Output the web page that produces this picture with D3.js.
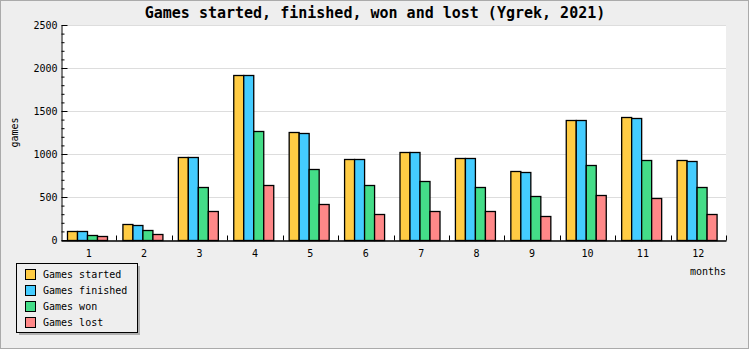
<!DOCTYPE html>
<html>
<head>
<meta charset="utf-8">
<script src="https://cdnjs.cloudflare.com/ajax/libs/d3/7.8.5/d3.min.js"></script>
<style>
  body { margin: 0; background: #fff; }
  text { font-family: "DejaVu Sans Mono", monospace; }
</style>
</head>
<body>
<div id="chart"></div>
<script>
const months = ["1", "2", "3", "4", "5", "6", "7", "8", "9", "10", "11", "12"];
const seriesNames = ["Games started", "Games finished", "Games won", "Games lost"];
const started  = [105, 186, 963, 1919, 1256, 938, 1020, 950, 802, 1392, 1430, 926];
const finished = [105, 170, 963, 1919, 1244, 938, 1020, 950, 791, 1392, 1415, 915];
const won      = [55, 116, 616, 1267, 826, 636, 686, 613, 508, 868, 926, 612];
const lost     = [43, 70, 337, 636, 419, 299, 337, 337, 276, 519, 484, 299];
const colors = ["#ffcc44", "#44ccff", "#44dd88", "#ff8888"];
const yTicks = [0, 500, 1000, 1500, 2000, 2500];

const W = 750, H = 350;
const margin = { top: 25, right: 24, bottom: 110, left: 61 };
const series = [started, finished, won, lost];

let svg = d3.select("#chart").append("svg")
  .attr("width", W)
  .attr("height", H);

// background and frame
svg.append("rect")
  .attr("x", 0.5).attr("y", 0.5)
  .attr("width", W - 2).attr("height", H - 2)
  .attr("fill", "#eeeeee")
  .attr("stroke", "#aaaaaa");

let x0 = d3.scaleBand().domain(months).range([margin.left, W - margin.right]).padding(0);
let bw = x0.bandwidth();
let x1 = d3.scaleBand().domain(d3.range(series.length)).range([bw * 0.11, bw * 0.83]).padding(0);
let y = d3.scaleLinear().domain([0, 2500]).range([H - margin.bottom, margin.top]);

// plot area
svg.append("rect")
  .attr("x", margin.left).attr("y", margin.top)
  .attr("width", W - margin.left - margin.right)
  .attr("height", H - margin.bottom - margin.top)
  .attr("fill", "#ffffff");

// grid lines
svg.append("g")
  .selectAll("line")
  .data(yTicks.filter(d => d > 0))
  .enter().append("line")
  .attr("x1", margin.left).attr("x2", W - margin.right)
  .attr("y1", d => Math.round(y(d)) + 0.5)
  .attr("y2", d => Math.round(y(d)) + 0.5)
  .attr("stroke", "#dddddd");

// bars
let groups = svg.append("g")
  .selectAll("g")
  .data(months)
  .enter().append("g")
  .attr("transform", d => `translate(${x0(d)},0)`);

groups.selectAll("rect")
  .data((m, i) => series.map((s, k) => ({ k: k, v: s[i] })))
  .enter().append("rect")
  .attr("x", d => Math.round(x1(d.k)) + 0.5)
  .attr("y", d => Math.round(y(d.v)) + 0.5)
  .attr("width", Math.round(x1.bandwidth()))
  .attr("height", d => Math.round(y(0)) - Math.round(y(d.v)))
  .attr("fill", d => colors[d.k])
  .attr("stroke", "#000")
  .attr("stroke-width", 1.3);

// y axis
let yAxis = d3.axisLeft(y)
  .tickValues(d3.range(0, 2501, 100))
  .tickSizeInner(0)
  .tickSizeOuter(0)
  .tickFormat("");
let yg = svg.append("g")
  .attr("transform", `translate(${margin.left + 0.5},0)`)
  .call(yAxis);
yg.select(".domain").attr("stroke", "#000");
yg.selectAll(".tick line")
  .attr("x2", d => d % 500 === 0 ? 6 : 3)
  .attr("stroke", "#000");
yg.selectAll(".tick")
  .filter(d => d % 500 === 0)
  .append("text")
  .attr("x", -4)
  .attr("dy", "0.35em")
  .attr("text-anchor", "end")
  .attr("fill", "#000")
  .style("font-size", "10px")
  .style("font-family", "DejaVu Sans Mono, monospace")
  .text(d => d);

// x axis
let xAxis = d3.axisBottom(x0).tickSize(0).tickSizeOuter(0);
let xg = svg.append("g")
  .attr("transform", `translate(0,${Math.round(y(0)) + 0.5})`)
  .call(xAxis);
xg.select(".domain").attr("stroke", "#000").attr("stroke-width", 1.5);
xg.selectAll(".tick text")
  .attr("y", 9)
  .attr("dy", "0.71em")
  .attr("fill", "#000")
  .style("font-size", "10px")
  .style("font-family", "DejaVu Sans Mono, monospace");
xg.append("g")
  .selectAll("line")
  .data(months.slice(1).concat(["end"]))
  .enter().append("line")
  .attr("x1", d => d === "end" ? Math.round(W - margin.right) + 0.5 : Math.round(x0(d)) + 0.5)
  .attr("x2", d => d === "end" ? Math.round(W - margin.right) + 0.5 : Math.round(x0(d)) + 0.5)
  .attr("y1", 0).attr("y2", -5)
  .attr("stroke", "#000");

// axis titles
svg.append("text")
  .attr("x", W - margin.right)
  .attr("y", 275)
  .attr("text-anchor", "end")
  .style("font-size", "10px")
  .text("months");

svg.append("text")
  .attr("transform", `translate(18,${(margin.top + y(0)) / 2}) rotate(-90)`)
  .attr("text-anchor", "middle")
  .style("font-size", "10px")
  .text("games");

// title
svg.append("text")
  .attr("x", W / 2)
  .attr("y", 18)
  .attr("text-anchor", "middle")
  .style("font-size", "15px")
  .style("font-weight", "bold")
  .text("Games started, finished, won and lost (Ygrek, 2021)");

// legend
let lx = 16, ly = 263, lw = 121, lh = 69;
svg.append("rect")
  .attr("x", lx + 3).attr("y", ly + 3)
  .attr("width", lw).attr("height", lh)
  .attr("fill", "#b0b0b0");
svg.append("rect")
  .attr("x", lx + 0.5).attr("y", ly + 0.5)
  .attr("width", lw).attr("height", lh)
  .attr("fill", "#eeeeee")
  .attr("stroke", "#000");

let items = svg.append("g")
  .selectAll("g")
  .data(seriesNames)
  .enter().append("g")
  .attr("transform", (d, i) => `translate(${lx + 9},${ly + 6 + i * 16})`);
items.append("rect")
  .attr("x", 0.5).attr("y", 0.5)
  .attr("width", 10).attr("height", 10)
  .attr("fill", (d, i) => colors[i])
  .attr("stroke", "#000");
items.append("text")
  .attr("x", 18)
  .attr("y", 9)
  .style("font-size", "10px")
  .text(d => d);
</script>
</body>
</html>
